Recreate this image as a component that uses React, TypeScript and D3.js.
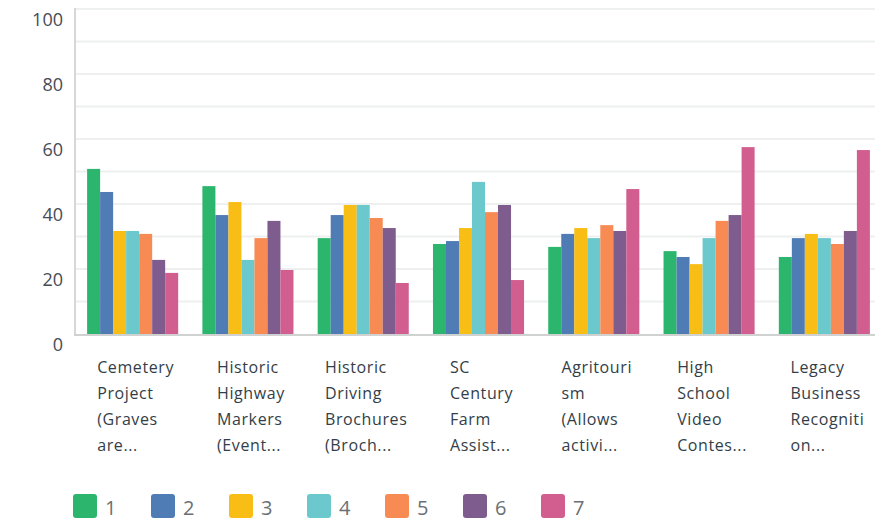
import React from "react";
import * as d3 from "d3";

const categories = [
  ["Cemetery", "Project", "(Graves", "are..."],
  ["Historic", "Highway", "Markers", "(Event..."],
  ["Historic", "Driving", "Brochures", "(Broch..."],
  ["SC", "Century", "Farm", "Assist..."],
  ["Agritouri", "sm", "(Allows", "activi..."],
  ["High", "School", "Video", "Contes..."],
  ["Legacy", "Business", "Recogniti", "on..."],
];
const seriesNames = ["1", "2", "3", "4", "5", "6", "7"];
const s1 = [50.8, 45.5, 29.5, 27.7, 26.8, 25.5, 23.7];
const s2 = [43.7, 36.6, 36.6, 28.6, 30.8, 23.7, 29.5];
const s3 = [31.7, 40.6, 39.7, 32.6, 32.6, 21.5, 30.8];
const s4 = [31.7, 22.8, 39.7, 46.8, 29.5, 29.5, 29.5];
const s5 = [30.8, 29.5, 35.7, 37.5, 33.5, 34.8, 27.7];
const s6 = [22.8, 34.8, 32.6, 39.7, 31.7, 36.6, 31.7];
const s7 = [18.8, 19.7, 15.7, 16.6, 44.6, 57.5, 56.6];
const series = [s1, s2, s3, s4, s5, s6, s7];
const colors = ["#2cb56d", "#507cb6", "#f9be15", "#6bc8cd", "#f78b53", "#7e5c8e", "#d15e8f"];
const yTicks = [0, 20, 40, 60, 80, 100];
const gridTicks = [10, 20, 30, 40, 50, 60, 70, 80, 90, 100];

const W = 875;
const H = 521;
const FONT = "'Open Sans', sans-serif";

function measure(text: string, font: string, ls: number) {
  const c = document.createElement("canvas");
  const ctx = c.getContext("2d")!;
  ctx.font = font;
  return ctx.measureText(text).width + ls * text.length;
}

export default function App() {
  const x0 = d3
    .scaleBand<number>()
    .domain(d3.range(categories.length))
    .range([75, 882])
    .paddingInner(0.21)
    .paddingOuter(0.105);
  const x1 = d3
    .scaleBand<number>()
    .domain(d3.range(seriesNames.length))
    .range([0, x0.bandwidth()]);
  const y = d3.scaleLinear().domain([0, 100]).range([334, 9]);

  return (
    <svg
      width={W}
      height={H}
      style={{ position: "absolute", left: 0, top: 0, fontFamily: FONT }}
    >
      {gridTicks.map((t) => (
        <line key={t} x1={75} x2={W} y1={y(t)} y2={y(t)} stroke="#eef0f0" strokeWidth={2} />
      ))}
      <line x1={75} x2={75} y1={y(100) - 1} y2={y(0)} stroke="#d6d8d8" strokeWidth={2} />
      {yTicks.map((t) => (
        <text
          key={t}
          x={63}
          y={y(t) + 10}
          textAnchor="end"
          dominantBaseline="central"
          fontSize={18}
          fill="#464c55"
        >
          {t}
        </text>
      ))}
      {categories.map((cat, i) => (
        <g key={i} transform={`translate(${x0(i)},0)`}>
          {series.map((s, j) => (
            <rect
              key={j}
              x={x1(j)}
              y={y(s[i])}
              width={x1.bandwidth()}
              height={y(0) - y(s[i])}
              fill={colors[j]}
            />
          ))}
        </g>
      ))}
      <line x1={74} x2={W} y1={y(0) + 1} y2={y(0) + 1} stroke="#d0d2d2" strokeWidth={2} />
      {categories.map((lines, i) => {
        const maxW = Math.max(...lines.map((l) => measure(l, `16px ${FONT}`, 0.6)));
        const cx = (x0(i) as number) + x0.bandwidth() / 2 + 3;
        const lx = cx - maxW / 2;
        return (
          <text key={i} x={lx} y={373} fontSize={16} fill="#333e48" letterSpacing={0.6}>
            {lines.map((l, k) => (
              <tspan key={k} x={lx} y={373 + k * 26}>
                {l}
              </tspan>
            ))}
          </text>
        );
      })}
      {seriesNames.map((n, j) => (
        <g key={n} transform={`translate(${73 + j * 78},494)`}>
          <rect width={24} height={24} rx={3} fill={colors[j]} />
          <text x={32} y={13} dominantBaseline="central" fontSize={20} fill="#6b6f75">
            {n}
          </text>
        </g>
      ))}
    </svg>
  );
}
